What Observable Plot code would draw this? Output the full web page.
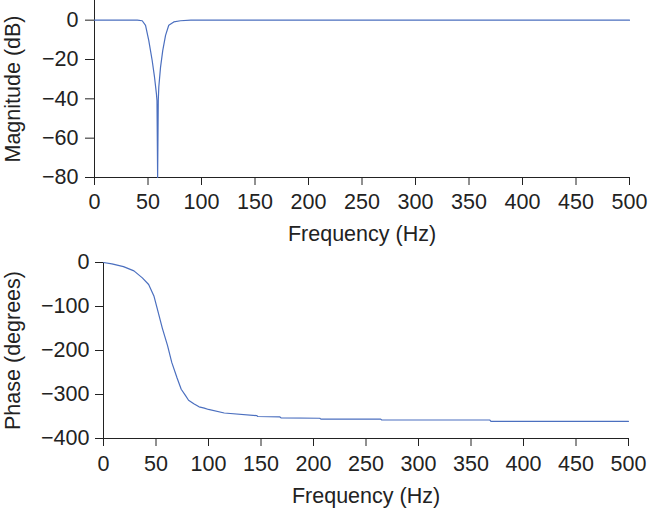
<!DOCTYPE html>
<html>
<head>
<meta charset="utf-8">
<script src="https://cdn.jsdelivr.net/npm/d3@7"></script>
<script src="https://cdn.jsdelivr.net/npm/@observablehq/plot@0.6"></script>
<style>
  html, body { margin: 0; padding: 0; background: #fff; }
  #chart svg { display: block; }
</style>
</head>
<body>
<div id="chart"></div>
<script>
// Magnitude response (notch at ~60 Hz)
const magFreq = [0, 40, 44.6, 47.7, 50.7, 53.9, 56.1, 57.9, 58.4, 59, 59.6, 60.1, 61.7, 63.8, 66.4, 69.4, 74.1, 80.4, 90, 500];
const magDb   = [0, 0, -0.3, -2.6, -10.3, -20.5, -29, -37.6, -41, -80, -41, -34, -24, -15.4, -7.7, -2.6, -0.9, -0.3, 0, 0];

// Phase response
const phaseFreq = [0, 8, 19, 29, 37, 43, 48, 51, 56, 61, 65, 70, 74, 78, 81, 86, 91, 96, 100, 115, 146, 147, 168, 169, 206, 207, 264, 265, 368, 369, 500];
const phaseDeg  = [0, -3, -9.5, -19, -35, -50, -76, -103, -149, -189, -227, -262, -288, -302, -313, -321, -328, -331, -334, -342, -348, -350, -351, -353, -354, -356, -356, -358, -358, -361, -361];

const xTicks = [0, 50, 100, 150, 200, 250, 300, 350, 400, 450, 500];
const magTicks = [-80, -60, -40, -20, 0];
const phaseTicks = [-400, -300, -200, -100, 0];

const lineColor = "#4b6fbf";
const inkColor = "#222";
const plotStyle = {fontFamily: "'Liberation Sans', Arial, sans-serif", fontSize: "21.5px", color: inkColor, background: "#fff", overflow: "visible"};

const magData = magFreq.map((f, i) => ({f, v: magDb[i]}));
const phaseData = phaseFreq.map((f, i) => ({f, v: phaseDeg[i]}));

const magPlot = Plot.plot({
  width: 650, height: 250,
  marginTop: 0, marginBottom: 73, marginLeft: 94, marginRight: 21,
  style: plotStyle,
  x: {domain: [0, 500]},
  y: {domain: [-80, 10]},
  marks: [
    Plot.ruleX([0], {y1: -80, y2: 10, stroke: inkColor}),
    Plot.ruleY([-80], {stroke: inkColor}),
    Plot.axisX({ticks: xTicks, tickSize: 8, tickPadding: 8, label: "Frequency (Hz)", labelAnchor: "center", labelOffset: 63, labelArrow: "none"}),
    Plot.axisY({ticks: magTicks, tickSize: 9, tickPadding: 7, label: "Magnitude (dB)", labelAnchor: "center", labelOffset: 90, labelArrow: "none"}),
    Plot.line(magData, {x: "f", y: "v", stroke: lineColor, strokeWidth: 1.2})
  ]
});

const phasePlot = Plot.plot({
  width: 650, height: 258,
  marginTop: 12, marginBottom: 70, marginLeft: 103, marginRight: 22,
  style: plotStyle,
  x: {domain: [0, 500]},
  y: {domain: [-400, 0]},
  marks: [
    Plot.ruleX([0], {y1: -400, y2: 0, stroke: inkColor}),
    Plot.ruleY([-400], {stroke: inkColor}),
    Plot.axisX({ticks: xTicks, tickSize: 8, tickPadding: 9, label: "Frequency (Hz)", labelAnchor: "center", labelOffset: 64, labelArrow: "none"}),
    Plot.axisY({ticks: phaseTicks, tickSize: 8, tickPadding: 6, label: "Phase (degrees)", labelAnchor: "center", labelOffset: 99, labelArrow: "none"}),
    Plot.line(phaseData, {x: "f", y: "v", stroke: lineColor, strokeWidth: 1.2})
  ]
});

document.getElementById("chart").append(magPlot, phasePlot);
</script>
</body>
</html>
